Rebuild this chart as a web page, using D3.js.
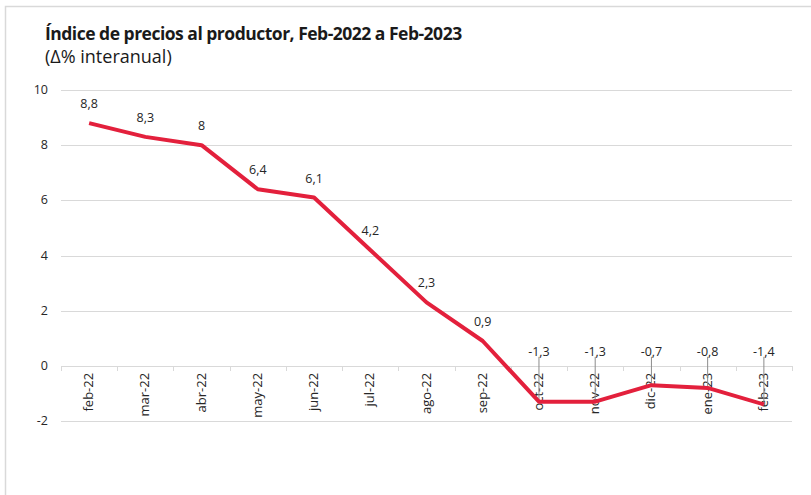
<!DOCTYPE html>
<meta charset="utf-8">
<head>
	<title>Indice de precios al productor</title>
	<script src="https://cdn.jsdelivr.net/npm/d3@7"></script>
	<style>
		body { margin: 0; background: #fff; font-family: "Open Sans", sans-serif; }
		.grid line { stroke: #d9d9d9; stroke-width: 1; }
		.lbl { font-size: 12.5px; fill: #262626; }
	</style>
</head>
<body>
<div id="chart"></div>
<script>
	// data
	var months = ["feb-22","mar-22","abr-22","may-22","jun-22","jul-22","ago-22","sep-22","oct-22","nov-22","dic-22","ene-23","feb-23"];
	var values = [8.8, 8.3, 8, 6.4, 6.1, 4.2, 2.3, 0.9, -1.3, -1.3, -0.7, -0.8, -1.4];
	var labels = ["8,8","8,3","8","6,4","6,1","4,2","2,3","0,9","-1,3","-1,3","-0,7","-0,8","-1,4"];
	var yTicks = [-2, 0, 2, 4, 6, 8, 10];

	var w = 811, h = 495;
	var svg = d3.select("#chart").append("svg").attr("width", w).attr("height", h);

	// outer frame
	svg.append("rect").attr("x", 5.5).attr("y", 6.5).attr("width", 830).attr("height", 520)
		.attr("fill", "none").attr("stroke", "#d9d9d9").attr("stroke-width", 1.5);

	svg.append("text").attr("x", 45).attr("y", 40)
		.style("font-size", "17.5px").style("font-weight", "bold").style("fill", "#1a1a1a")
		.style("letter-spacing", "-0.5px")
		.text("Índice de precios al productor, Feb-2022 a Feb-2023");
	svg.append("text").attr("x", 45).attr("y", 63)
		.style("font-size", "18px").style("fill", "#1a1a1a")
		.text("(Δ% interanual)");

	var x = d3.scaleBand().domain(months).range([61, 792]);
	var y = d3.scaleLinear().domain([-2, 10]).range([421, 90]);
	var cx = i => x(months[i]) + x.bandwidth() / 2;

	// gridlines
	svg.append("g").attr("class", "grid").selectAll("line").data(yTicks).enter().append("line")
		.attr("x1", 61).attr("x2", 792)
		.attr("y1", d => Math.round(y(d)) + 0.5).attr("y2", d => Math.round(y(d)) + 0.5);

	// y tick labels
	svg.append("g").selectAll("text").data(yTicks).enter().append("text")
		.attr("class", "lbl").attr("x", 48).attr("y", d => y(d) + 4)
		.attr("text-anchor", "end").text(d => d);

	// category separator ticks on the zero line
	var bounds = months.map(m => x(m)).concat([x.range()[1]]);
	svg.append("g").selectAll("line").data(bounds).enter().append("line")
		.attr("x1", d => Math.round(d) + 0.5).attr("x2", d => Math.round(d) + 0.5)
		.attr("y1", Math.round(y(0))).attr("y2", Math.round(y(0)) + 5)
		.attr("stroke", "#d9d9d9");

	// category labels, rotated
	svg.append("g").selectAll("text").data(months).enter().append("text")
		.attr("class", "lbl").style("font-size", "13px")
		.attr("transform", (d, i) => "translate(" + (cx(i) + 4) + "," + (y(0) + 7) + ") rotate(-90)")
		.attr("text-anchor", "end").text(d => d);

	// leader lines for the negative labels
	values.forEach(function(v, i) {
		if (v < 0) {
			svg.append("line")
				.attr("x1", cx(i)).attr("x2", cx(i))
				.attr("y1", y(0) - 9).attr("y2", y(v))
				.attr("stroke", "#8c8c8c").attr("stroke-width", 1);
		}
	});

	// the line
	var line = d3.line().x((d, i) => cx(i)).y(d => y(d));
	svg.append("path").datum(values).attr("d", line)
		.attr("fill", "none").attr("stroke", "#e3203c").attr("stroke-width", 4)
		.attr("stroke-linejoin", "round");

	// data labels
	svg.append("g").selectAll("text").data(values).enter().append("text")
		.attr("class", "lbl").attr("text-anchor", "middle")
		.attr("x", (d, i) => cx(i))
		.attr("y", d => d < 0 ? y(0) - 10 : y(d) - 15)
		.text((d, i) => labels[i]);
</script>
</body>
</html>
